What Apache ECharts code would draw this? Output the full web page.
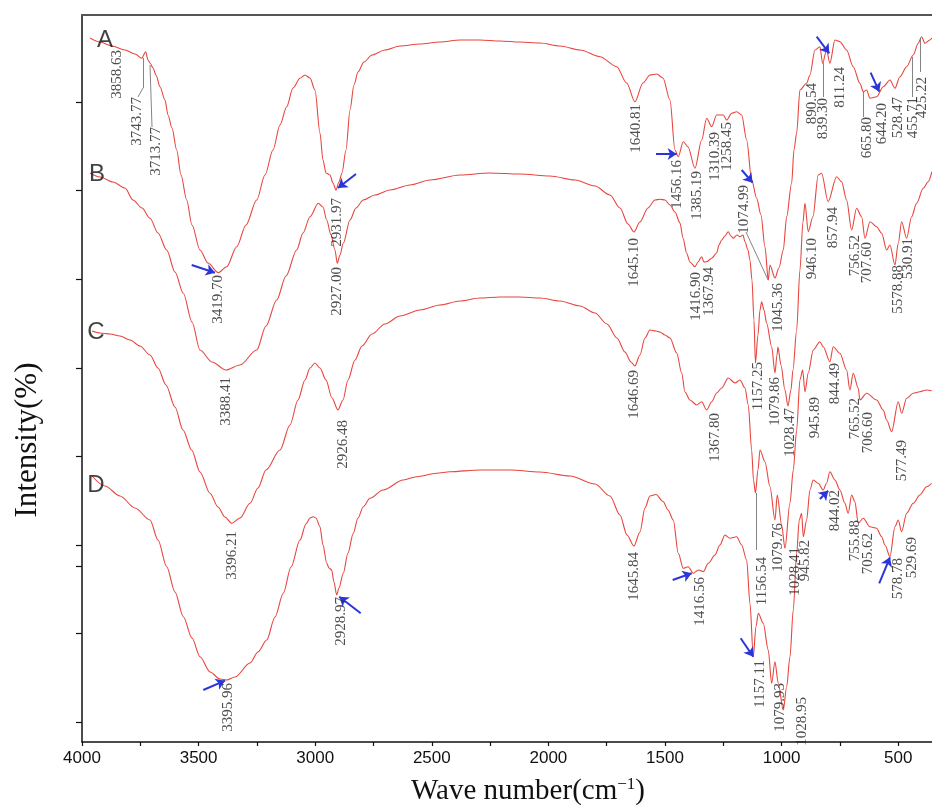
<!DOCTYPE html>
<html><head><meta charset="utf-8">
<script src="https://cdn.jsdelivr.net/npm/echarts@6/dist/echarts.min.js"></script>
<style>html,body{margin:0;padding:0;background:#fff}#c{width:932px;height:805px}</style>
</head><body><div id="c"></div>
<script>
// ---- data: [wavenumber, relative intensity] ----
const specA=[[3965.7,704],[3922.8,700],[3871.4,696],[3815.6,692],[3772.7,688],[3744,683.7],[3726.9,690.3],[3717,682],[3708.4,679],[3695.6,674],[3682.7,667],[3665.5,655.3],[3644.1,642],[3631.2,627],[3614.1,614],[3594,592],[3575.5,567],[3551.1,542],[3528.3,517],[3494,492],[3459.7,479],[3415.5,469.3],[3379.5,475.3],[3336.6,495.3],[3296.8,517],[3250.9,542],[3215.3,567],[3181,592],[3151,617],[3122.3,635.3],[3095.2,654],[3065.2,663.7],[3043.8,667],[3022.3,664],[3000.9,652],[2979.5,609],[2966.6,582],[2953.7,569],[2936.6,567],[2923.7,559],[2910.8,552],[2898,560],[2885.1,569],[2868,592],[2850.8,632],[2833.7,657],[2816.5,670],[2790.8,680],[2756.5,687],[2700.7,692],[2636.4,696],[2550.7,698],[2464.9,700],[2379.1,702],[2293.4,702],[2207.6,701],[2121.9,700],[2036.1,699],[1950.3,696],[1864.6,692],[1778.8,685.3],[1707.3,675.3],[1664.4,659],[1628.8,640.3],[1594.5,659],[1564.5,667],[1535.7,668],[1508.6,664],[1478.6,642],[1457.2,592],[1443,585.3],[1421.6,600.3],[1401.5,595.3],[1371.4,573.7],[1342.7,602],[1321.3,623.7],[1299.8,615.3],[1278.4,627],[1250.1,627],[1235.6,622],[1214.1,628.7],[1192.6,630.3],[1171.2,627],[1149.8,602],[1128.3,562],[1106.9,543.7],[1088.4,527],[1071.3,495.3],[1057.2,462],[1049.9,477],[1028.4,464],[1011.3,474],[992.8,492],[978.3,525.3],[956.8,559],[946.9,592],[935.4,609],[921.3,652],[892.6,658.7],[878.5,667],[857,692],[835.7,695.3],[824.1,678.7],[807.3,692],[792.8,678.7],[771.3,702],[749.9,700.3],[721.2,692],[692.9,675.3],[664.1,658.7],[650,650.3],[635.3,652],[621.1,643.7],[592.4,645.3],[564.1,655.3],[535.3,662],[513.9,653.7],[492.5,665.3],[463.8,675.3],[435.5,687],[414.1,698.7],[399.6,705.3],[385.4,698.7],[364.1,702],[355.5,704]];
const specB=[[3965.7,569],[3922.8,565],[3867.1,560],[3815.6,554],[3781.3,542],[3742.7,534],[3708.4,523.7],[3674.1,509],[3636.8,492],[3601.2,470],[3565.6,448.7],[3528.3,420],[3494,392],[3442.6,380],[3382.5,372],[3322.5,377],[3250.9,392],[3211,416],[3165.1,442],[3125.2,466],[3079.4,492],[3052.3,509],[3022.3,525.3],[2986.7,538.7],[2966.6,535],[2950.7,522],[2932.3,507],[2915.2,492],[2905.3,478.7],[2893.7,487],[2879.6,498.7],[2850.8,522],[2825.1,534],[2793.8,542],[2743.6,547],[2679.3,552],[2593.5,557],[2507.8,562],[2379.1,567],[2250.5,569],[2121.9,568],[1993.2,566],[1886,562],[1800.3,556],[1735.9,547],[1693.1,534],[1658.8,518],[1633.1,510],[1607.4,520],[1573.1,534],[1543,542],[1521.5,542.7],[1500,542],[1478.6,537],[1457.2,530],[1435.7,519],[1422.8,504],[1407,488.7],[1392.9,480],[1371.4,475.3],[1358.5,480],[1342.7,485.3],[1332.8,480],[1321.3,480.3],[1299.8,483.7],[1278.4,489],[1268.5,497],[1257,502],[1242.8,506],[1228.7,510.3],[1217.1,506],[1207.2,503.7],[1191.3,507],[1178.5,505.3],[1165.6,507],[1157,500.3],[1144.2,492],[1135.6,482],[1127,462],[1118.5,422],[1112.1,379],[1101.3,407],[1092.7,432],[1085.4,440.3],[1075.6,432],[1064,418.7],[1042.6,395.3],[1028.4,369],[1019.8,387],[1015.6,395],[1002.7,377],[985.6,352],[972.7,336],[959.8,352],[951.3,372],[935.4,412],[921.3,472],[908.4,520],[899.8,538.7],[885.7,510.3],[865.6,525.3],[842.9,567],[828.4,568.7],[800.4,540.3],[764.1,565.3],[742.6,560.3],[721.2,542],[699.7,512],[678.3,533.7],[656.8,525.3],[642.5,503.7],[621.1,520.3],[592.4,515.3],[570.9,508.7],[549.5,492],[535.3,497],[513.9,477],[499.8,498.7],[485.2,520.3],[463.8,503.7],[442.4,525.3],[421,538.7],[392.7,553.7],[371.3,560.3],[355.5,570.3]];
const specC=[[3957.1,411],[3922.8,409],[3879.9,408],[3837.1,406],[3794.2,402],[3751.3,396],[3708.4,387],[3674.1,374],[3639.8,357],[3601.2,335],[3566.9,312],[3529.6,292],[3494,270],[3451.1,248.7],[3416.8,235],[3386.8,225],[3358.1,218.7],[3322.5,224],[3279.6,238.7],[3245.3,254],[3211,272],[3151,292],[3108.1,317],[3073.8,342],[3043.8,362],[3022.3,374],[3000.9,379],[2979.5,374],[2953.7,362],[2928,344],[2902.3,332],[2880.8,342],[2859.5,362],[2829.4,382],[2799.4,396],[2756.5,408],[2700.7,418],[2636.4,426],[2550.7,432],[2464.9,437],[2379.1,441],[2293.4,444],[2207.6,445],[2121.9,445],[2036.1,444],[1950.3,441],[1864.6,436],[1800.3,429],[1748.8,418],[1706,404],[1671.6,390],[1645.9,380],[1628.8,376],[1607.4,387],[1585.9,404],[1564.5,412],[1538.7,411],[1521.5,410],[1500,407],[1478.6,404],[1449.8,389],[1428.4,369],[1414.3,350],[1392.9,342],[1364.1,337],[1342.7,340.3],[1321.3,332],[1299.8,340.3],[1278.4,349],[1257,354],[1228.7,364],[1199.9,359],[1178.5,362],[1157,354],[1142.9,337],[1128.3,292],[1120.5,262],[1112.1,249],[1101.3,272],[1092.7,292],[1071.3,280.3],[1049.9,255.3],[1028.4,222],[1018.6,247],[999.7,217],[985.6,193.7],[964.1,239],[949.9,272],[935.4,312],[921.3,362],[909.7,372],[899.8,350.3],[885.7,369],[864.3,392],[835.7,400.3],[821.5,395.3],[792.8,380.3],[778.6,395.3],[749.9,388.7],[721.2,372],[707,352],[692.9,368.7],[671.4,354],[664.1,342],[635.3,348.7],[592.4,342],[564.1,332],[549.5,322],[528,310.3],[499.8,340.3],[485.2,328.7],[463.8,343.7],[435.5,348.7],[406.9,350.3],[378.2,352],[356.8,351.3]];
const specD=[[3957.1,266],[3901.4,256],[3837.1,246],[3772.7,234],[3708.4,222],[3674.1,202],[3636.8,175.3],[3601.2,150],[3565.6,125.3],[3528.3,104],[3494,85.3],[3451.1,70],[3408.3,63],[3379.5,62],[3343.9,65],[3279.6,79],[3245.3,90],[3208,102],[3172.4,125],[3136.8,148.7],[3103.8,175],[3065.2,202],[3039.5,218],[3022.3,224],[3008.2,225.3],[2996.6,224],[2979.5,215.3],[2966.6,197],[2950.7,179],[2940.9,174],[2929.3,172],[2919.4,160],[2907.8,147],[2898,154],[2879.6,168.7],[2859.5,189],[2836.7,208.7],[2816.5,224],[2793.8,235.3],[2765.1,243.7],[2708.9,252],[2622.2,262],[2565,265.3],[2479.1,268.7],[2422.1,270.3],[2293.4,272],[2164.7,272],[2036.1,270],[1907.5,266],[1800.3,258],[1735.9,246],[1693.1,227],[1663.1,207],[1633.1,196],[1607.4,210],[1585.9,234],[1564.5,246],[1538.7,247.5],[1507.3,240.3],[1487.2,232],[1464.4,222],[1443,188.7],[1421.6,173.7],[1400.2,175.3],[1378.7,168.7],[1357.2,172],[1335.8,170.3],[1314.4,178.7],[1285.7,187],[1264.3,197],[1242.8,207],[1221.4,203.7],[1192.6,205.3],[1171.2,197],[1149.8,182],[1135.6,138.7],[1121.4,85.3],[1109.9,115.3],[1100,128.7],[1078.6,118.7],[1057.2,92],[1042.6,58.7],[1028.4,80.3],[1014.3,58.7],[992.8,32],[978.3,55.3],[964.1,85.3],[949.9,132],[935.4,188.7],[924.3,222],[914,228.7],[907.1,205.3],[892.6,222],[878.5,252],[864.3,262],[842.9,258.7],[821.5,252],[807.3,258.7],[792.8,270.3],[771.3,262],[749.9,252],[728.5,238.7],[714.3,228.7],[699.7,247],[685.5,240.3],[671.4,218.7],[650,223.7],[621.1,215.3],[592.4,213.7],[570.9,205.3],[556.7,197],[535.3,185.3],[513.9,215.3],[499.8,222],[485.2,210.3],[463.8,228.7],[435.5,238.7],[406.9,247],[378.2,255.3],[356.8,258.7]];

// peak annotations: [text, wavenumber, intensity at top end of label]
const peaksA=[['3858.63',3851.2,692],['3743.77',3762.9,645],['3713.77',3682.7,615],['3419.70',3416.8,467],['2931.97',2907.8,544],['1640.81',1624.4,638],['1456.16',1447.3,582],['1385.19',1364.1,571],['1310.39',1285.7,610],['1258.45',1235.6,620],['1074.99',1161.3,557],['1045.36',1014.3,459],['890.54',871.2,659],['839.30',821.5,644],['811.24',749.9,675],['665.80',635.3,625],['644.20',570.9,639],['528.47',502.4,645],['455.71',435.5,645],['425.22',399.6,665]];
const peaksB=[['3388.41',3382.5,365],['2927.00',2905.3,475],['1645.10',1633.1,504],['1416.90',1367.2,470],['1367.94',1310.1,475],['1157.25',1101.3,380],['1079.86',1028.4,365],['1028.47',964.1,334],['946.10',871.2,504],['857.94',778.6,535],['756.52',685.5,507],['707.60',632.6,500],['5578.88',499.8,477],['530.91',456.8,504]];
const peaksC=[['3396.21',3358.1,211],['2926.48',2880.8,322],['1646.69',1633.1,372],['1367.80',1285.7,329],['1156.54',1084.2,185],['1079.76',1014.3,219],['1028.41',942.6,195],['945.89',857,345],['844.49',771.3,379],['765.52',685.5,344],['706.60',628.3,330],['577.49',485.2,302]];
const peaksD=[['3395.96',3374,59],['2928.97',2890.8,145],['1645.84',1633.1,190],['1416.56',1350,165],['1157.11',1092.7,82],['1079.93',1007.9,59],['1028.95',914,45],['945.82',899.8,202],['844.02',771.3,252],['755.88',685.5,222],['705.62',628.3,209],['578.78',499.8,184],['529.69',442.4,205]];
const curveNames=[['A',3901.4,702],['B',3935.7,568],['C',3940,410],['D',3940,257]];
// leader lines [x1,y1,x2,y2]
const leaders=[[3738.4,684,3738.4,654],[3738.4,654,3759.9,645],[3708.4,677,3699.8,615],[1057.7,462,1152.7,510],[821.5,679,821.5,645],[650,650,650,625],[438.1,685,438.1,645],[403.9,704,403.9,670],[1109.9,249,1109.9,192]];
// blue arrows [fromX,fromY,toX,toY]
const arrows=[[3529.6,477,3429.7,469.3],[2825.1,568,2902.3,554],[1538.7,588,1450,588],[1171.2,572,1124,559.3],[849.6,705.3,795.6,688.7],[618.2,669.3,581.3,650.3],[3479.9,52,3386.8,61.3],[2804.9,128.7,2896.7,145.3],[1467,162,1385.5,168.7],[1175.5,103.7,1121.4,85.3],[835.7,243,800.1,251.3],[581.3,158.7,535.3,184.7]];
const xTickLabels=[500,1000,1500,2000,2500,3000,3500,4000];
const xTicks=[500,750,1000,1250,1500,1750,2000,2250,2500,2750,3000,3250,3500,3750,4000];
const yTicks=[19.8,108.4,176,197,285.6,374.2,462.8,551.4,640];

const serif="'Liberation Serif','Times New Roman','DejaVu Serif',serif";
const sans="'Liberation Sans',Arial,Helvetica,sans-serif";
const chart=echarts.init(document.getElementById('c'));
function spec(d){return {type:'line',data:d,symbol:'none',showSymbol:false,silent:true,z:3,
  smooth:0.3,smoothMonotone:'x',
  lineStyle:{color:'#e8453e',width:1.1}};}
function peakLabels(items){return {type:'scatter',silent:true,z:6,symbolSize:1,
  itemStyle:{color:'rgba(0,0,0,0)'},
  data:items.map(p=>[p[1],p[2],p[0]]),
  label:{show:true,position:'inside',rotate:90,align:'right',verticalAlign:'middle',
    formatter:p=>p.value[2],fontFamily:serif,fontSize:15,color:'#222',textBorderWidth:0}};}
const option={
  animation:false,
  grid:{left:82,right:0,top:15,bottom:63},
  xAxis:[{type:'value',inverse:true,min:355,max:4000,position:'bottom',
    axisLine:{show:true,onZero:false,lineStyle:{color:'#111',width:1.5}},
    axisTick:{show:true,inside:false,length:4,customValues:xTicks,lineStyle:{color:'#111',width:1.2}},
    axisLabel:{customValues:xTickLabels,formatter:v=>String(v),fontFamily:sans,fontSize:17,color:'#111',margin:8},
    splitLine:{show:false}},
   {type:'value',inverse:true,min:355,max:4000,position:'top',
    axisLine:{show:true,onZero:false,lineStyle:{color:'#555',width:2}},
    axisTick:{show:false},axisLabel:{show:false},splitLine:{show:false}}],
  yAxis:{type:'value',min:0,max:727,
    axisLine:{show:true,onZero:false,lineStyle:{color:'#111',width:1.5}},
    axisTick:{show:true,inside:false,length:6,customValues:yTicks,lineStyle:{color:'#111',width:1.2}},
    axisLabel:{show:false},splitLine:{show:false}},
  series:[
    spec(specA),spec(specB),spec(specC),spec(specD),
    peakLabels(peaksA),peakLabels(peaksB),peakLabels(peaksC),peakLabels(peaksD),
    {type:'scatter',silent:true,z:7,symbolSize:1,itemStyle:{color:'rgba(0,0,0,0)'},
     data:curveNames.map(p=>[p[1],p[2],p[0]]),
     label:{show:true,position:'inside',formatter:p=>p.value[2],fontFamily:sans,fontSize:24,color:'#111',textBorderWidth:0}},
    {type:'line',data:[],silent:true,z:4,
     markLine:{silent:true,animation:false,symbol:['none','none'],label:{show:false},
       lineStyle:{color:'#777',width:0.9,type:'solid'},emphasis:{disabled:true},
       data:leaders.map(l=>[{coord:[l[0],l[1]]},{coord:[l[2],l[3]]}])}},
    {type:'line',data:[],silent:true,z:8,
     markLine:{silent:true,animation:false,symbol:['none','arrow'],symbolSize:9,label:{show:false},
       lineStyle:{color:'#2b36d9',width:2,type:'solid'},emphasis:{disabled:true},
       data:arrows.map(a=>[{coord:[a[0],a[1]]},{coord:[a[2],a[3]]}])}}
  ],
  graphic:[
    {type:'text',x:28,y:440,rotation:Math.PI/2,silent:true,
     style:{text:'Intensity(%)',font:"31px "+serif,fill:'#111',textAlign:'center',textVerticalAlign:'middle'}},
    {type:'text',x:528,y:791,silent:true,
     style:{text:'{a|Wave number(cm}{s|−1}{a|)}',textAlign:'center',textVerticalAlign:'middle',
       rich:{a:{fontFamily:serif,fontSize:29,fill:'#111'},s:{fontFamily:serif,fontSize:17,fill:'#111',verticalAlign:'top'}}}}
  ]
};
chart.setOption(option);
</script></body></html>
